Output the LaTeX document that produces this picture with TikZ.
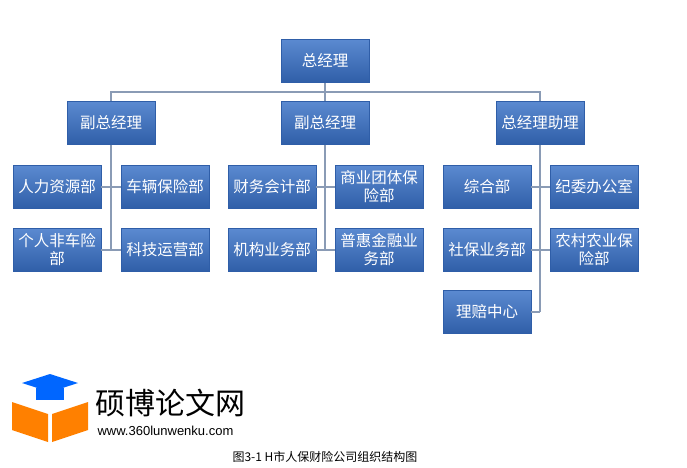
\documentclass[tikz,border=0pt]{standalone}
\usepackage{fontspec}
\setmainfont{Liberation Serif}
\newfontfamily\cjk{Noto Sans CJK SC}
\usetikzlibrary{positioning}
\definecolor{boxtop}{HTML}{5A8AD0}
\definecolor{boxbot}{HTML}{2F5EA8}
\definecolor{linkgray}{HTML}{8A9BB5}
\tikzset{
	unit/.style={draw=boxbot, top color=boxtop, bottom color=boxbot, text=white, minimum width=88pt, minimum height=43pt, inner sep=1pt, align=center, text width=84pt, font=\cjk\fontsize{15.5}{18}\selectfont},
	link/.style={draw=linkgray, line width=1.2pt}
}

\newcommand{\orgbox}[4] {
	\node[unit] (#1) at (#2,#3) {#4};
}

\begin{document}
\begin{tikzpicture}[x=1pt, y=-1pt]
	\useasboundingbox (0,0) rectangle (687,467);
	\orgbox{gm}{325}{61}{总经理}
	\orgbox{vl}{111}{123}{副总经理}
	\orgbox{vm}{325}{123}{副总经理}
	\orgbox{as}{540}{123}{总经理助理}
	\orgbox{hr}{57}{187}{人力资源部}
	\orgbox{car}{165}{187}{车辆保险部}
	\orgbox{pnc}{57}{250}{个人非车险\\部}
	\orgbox{tech}{165}{250}{科技运营部}
	\orgbox{fin}{272}{187}{财务会计部}
	\orgbox{grp}{379}{187}{商业团体保\\险部}
	\orgbox{inst}{272}{250}{机构业务部}
	\orgbox{inc}{379}{250}{普惠金融业\\务部}
	\orgbox{gen}{487}{187}{综合部}
	\orgbox{disc}{594}{187}{纪委办公室}
	\orgbox{soc}{487}{250}{社保业务部}
	\orgbox{rur}{594}{250}{农村农业保\\险部}
	\orgbox{clm}{487}{312}{理赔中心}
	
	\coordinate (bus) at (325,92);
	\draw[link] (gm.south) -- (vm.north);
	\draw[link] (vl.north) |- (bus) -| (as.north);
	\draw[link] (vl.south) -- (111,250);
	\draw[link] (vm.south) -- (325,250);
	\draw[link] (as.south) -- (540,312);
	\draw[link] (hr.east) -- (car.west);
	\draw[link] (pnc.east) -- (tech.west);
	\draw[link] (fin.east) -- (grp.west);
	\draw[link] (inst.east) -- (inc.west);
	\draw[link] (gen.east) -- (disc.west);
	\draw[link] (soc.east) -- (rur.west);
	\draw[link] (clm.east) -- (540,312);
	
	% watermark
	\fill[blue!60!cyan] (22,383) -- (50,374) -- (78,383) -- (50,392) -- cycle;
	\fill[blue!60!cyan] (36,388) rectangle (64,400);
	\fill[orange] (12,402) -- (48,414) -- (48,442) -- (12,430) -- cycle;
	\fill[orange] (52,414) -- (88,402) -- (88,430) -- (52,442) -- cycle;
	\node[anchor=west, font=\cjk\fontsize{30}{32}\selectfont] (logo) at (92,403) {硕博论文网};
	\node[anchor=west, font=\fontspec{Liberation Sans}\fontsize{13}{15}\selectfont] (url) at (94,431) {www.360lunwenku.com};
	
	\node[font=\cjk\fontsize{12}{14}\selectfont] (cap) at (325,457) {图3-1 H市人保财险公司组织结构图};
\end{tikzpicture}
\end{document}
